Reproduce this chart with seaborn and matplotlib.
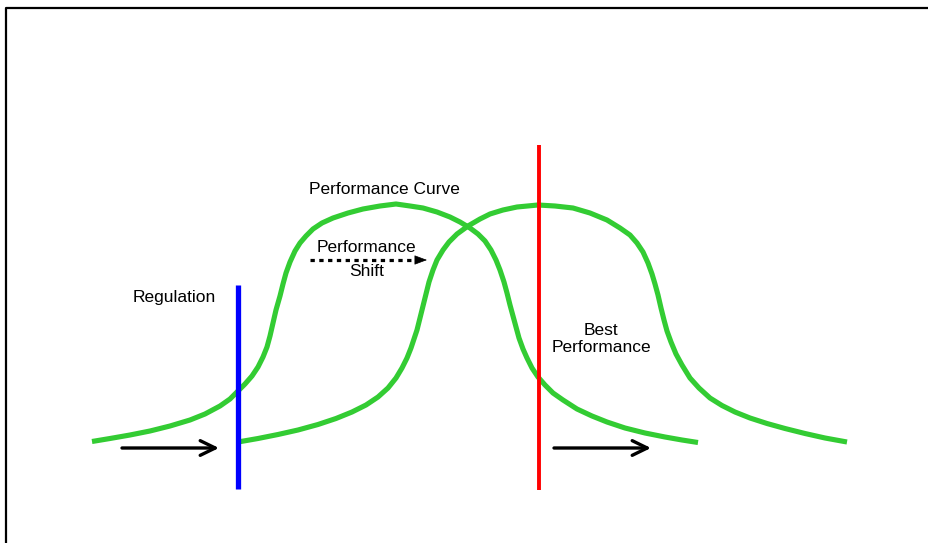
import matplotlib
matplotlib.use("Agg")
import matplotlib.pyplot as plt
import seaborn as sns
import pandas as pd

# ---- data (image coordinates: x right, y down) ----
curve_before_x = [92, 110, 130, 150, 170, 190, 205, 220, 230, 238, 245, 252, 258, 263,
                  267, 270, 273, 276, 280, 283, 286, 290, 295, 300, 306, 313, 322, 333,
                  348, 363, 380, 396, 410, 423, 437, 450, 460, 470, 478, 485, 491, 496,
                  500, 504, 507, 510, 513, 516, 519, 523, 527, 532, 538, 545, 553, 563,
                  577, 592, 607, 625, 645, 665, 682, 698]
curve_before_y = [441.5, 438.5, 435, 431, 426, 420, 414, 406, 399, 391, 384, 376, 367, 357,
                  347, 336, 323, 310, 296, 284, 273, 262, 251, 243, 236, 229, 223, 218,
                  213, 209, 206, 204, 206, 208, 212, 217, 222, 228, 234, 241, 250, 260,
                  270, 282, 293, 305, 316, 327, 338, 349, 358, 368, 377, 385, 393, 400,
                  409, 416, 422, 428, 433, 437, 440, 442.5]

curve_after_x = [238, 258, 278, 298, 318, 336, 352, 366, 378, 388, 396, 402, 407,
                 411, 414, 417, 420, 423, 426, 429, 433, 437, 443, 449, 457, 468, 480,
                 490, 503, 517, 538, 555, 573, 590, 607, 620, 630, 637, 643, 648, 652,
                 655, 658, 661, 664, 667, 671, 676, 682, 690, 699, 710, 722, 735, 750,
                 767, 785, 805, 825, 847]
curve_after_y = [442, 438.5, 434.5, 430, 424.5, 418.5, 412, 405, 397, 388, 378, 368, 358,
                 348, 339, 330, 318, 306, 294, 282, 270, 260, 250, 242, 234, 226, 219,
                 214, 210, 207, 205, 206, 208, 213, 220, 228, 235, 243, 252, 263, 274,
                 284, 295, 308, 320, 331, 342, 354, 365, 378, 388, 398, 405.5, 412, 418,
                 423.5, 428.5, 433.5, 438, 442]

regulation_x = [238, 238]
regulation_y = [285, 489]
best_x = [539, 539]
best_y = [145, 490]

labels = ["Performance Curve", "Performance", "Shift", "Regulation", "Best", "Performance"]

# ---- figure ----
sns.set_theme(style="white")
plt.rcParams["font.family"] = ["Liberation Sans", "DejaVu Sans"]

fig = plt.figure(figsize=(9.29, 5.43), dpi=100)
ax = fig.add_axes([0, 0, 1, 1])

df = pd.concat([
    pd.DataFrame({"x": curve_before_x, "y": curve_before_y, "curve": "before"}),
    pd.DataFrame({"x": curve_after_x, "y": curve_after_y, "curve": "after"}),
])
sns.lineplot(data=df, x="x", y="y", hue="curve", palette=["#33CC33", "#33CC33"],
             sort=False, estimator=None, linewidth=3.7, legend=False, ax=ax,
             solid_capstyle="butt", solid_joinstyle="round")
ax.set_xlim(0, 929)
ax.set_ylim(543, 0)
ax.axis("off")

# vertical markers
ax.plot(regulation_x, regulation_y, color="#0000FF", lw=3.8, solid_capstyle="butt")
ax.plot(best_x, best_y, color="#FF0000", lw=2.8, solid_capstyle="butt")

# frame (left & top)
ax.plot([6.5, 6.5, 929], [543, 7.5, 7.5], color="black", lw=1.6)

# solid arrows
for x0, x1 in [(122, 219), (554, 651)]:
    ax.annotate("", xy=(x1, 448), xytext=(x0, 448),
                arrowprops=dict(arrowstyle="->,head_length=0.45,head_width=0.22",
                                lw=2.4, color="black", shrinkA=0, shrinkB=0,
                                mutation_scale=24))

# dotted arrow
ax.plot([310, 418], [260, 260], color="black", lw=2.3, ls=(0, (1.35, 1.4)),
        dash_capstyle="butt")
ax.annotate("", xy=(427, 260), xytext=(416, 260),
            arrowprops=dict(arrowstyle="-|>,head_length=0.4,head_width=0.15",
                            lw=0.5, color="black", shrinkA=0, shrinkB=0,
                            mutation_scale=20))

fs = 12.5
ax.text(384, 194, labels[0], ha="center", va="baseline", fontsize=fs, color="black")
ax.text(366.5, 251.5, labels[1], ha="center", va="baseline", fontsize=fs, color="black")
ax.text(366.5, 276, labels[2], ha="center", va="baseline", fontsize=fs, color="black")
ax.text(174, 302, labels[3], ha="center", va="baseline", fontsize=fs, color="black")
ax.text(601, 335, labels[4], ha="center", va="baseline", fontsize=fs, color="black")
ax.text(601, 351.5, labels[5], ha="center", va="baseline", fontsize=fs, color="black")

fig.savefig("out.png", dpi=100, facecolor="white")
